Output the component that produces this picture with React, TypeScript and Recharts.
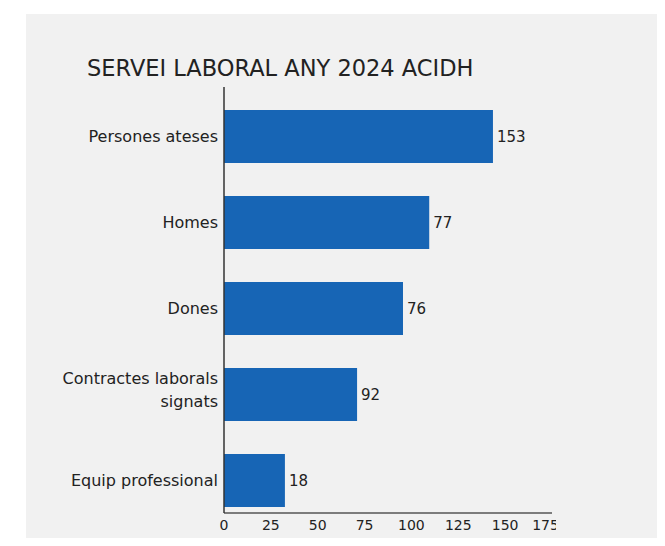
import { Bar, BarChart, LabelList, XAxis, YAxis } from 'recharts'

const categories = [
  'Persones ateses',
  'Homes',
  'Dones',
  'Contractes laborals\nsignats',
  'Equip professional',
]
// bar lengths as drawn in the picture (they do not follow the printed numbers)
const barLengths = [143.5, 109.5, 95.5, 71, 32.5]
// numbers printed next to each bar
const printedValues = ['153', '77', '76', '92', '18']
const xTicks = [0, 25, 50, 75, 100, 125, 150, 175]

const data = categories.map((name, i) => ({
  name,
  length: barLengths[i],
  shown: printedValues[i],
}))

const font = "'DejaVu Sans', sans-serif"
const textColor = '#222'
const barColor = '#1765b5'

function CategoryTick(props: any) {
  const { x, y, payload } = props
  const lines = String(payload.value).split('\n')
  const lineH = 23
  const startY = y - ((lines.length - 1) * lineH) / 2 - (lines.length > 1 ? 5 : 0)
  return (
    <text
      x={x + 2}
      y={startY}
      textAnchor="end"
      dominantBaseline="central"
      fontSize={16}
      fontFamily={font}
      fill={textColor}
    >
      {lines.map((line, i) => (
        <tspan key={i} x={x + 2} dy={i === 0 ? 0 : lineH}>
          {line}
        </tspan>
      ))}
    </text>
  )
}

export default function App() {
  return (
    <div
      style={{
        position: 'relative',
        width: 665,
        height: 546,
        margin: -8,
        background: '#ffffff',
        fontFamily: font,
        overflow: 'hidden',
      }}
    >
      <div
        style={{
          position: 'absolute',
          left: 26,
          top: 14,
          right: 0,
          bottom: 0,
          background: '#f1f1f1',
        }}
      />
      <div
        style={{
          position: 'absolute',
          left: 87,
          top: 55,
          fontSize: 22.5,
          color: textColor,
          whiteSpace: 'nowrap',
        }}
      >
        SERVEI LABORAL ANY 2024 ACIDH
      </div>
      <div style={{ position: 'absolute', left: 0, top: 0 }}>
        <BarChart
          width={556}
          height={546}
          data={data}
          layout="vertical"
          margin={{ top: 87, right: 4, bottom: 3, left: 24 }}
          barSize={53}
        >
          <XAxis
            type="number"
            domain={[0, 175]}
            ticks={xTicks}
            tickLine={false}
            axisLine={{ stroke: '#555', strokeWidth: 1.5 }}
            tick={{ fontSize: 14, fill: textColor, fontFamily: font }}
            tickMargin={1}
            height={30}
          />
          <YAxis
            type="category"
            dataKey="name"
            width={200}
            tickLine={false}
            axisLine={{ stroke: '#333', strokeWidth: 1.5 }}
            tick={<CategoryTick />}
            padding={{ top: 6, bottom: -10 }}
            interval={0}
          />
          <Bar dataKey="length" fill={barColor} isAnimationActive={false}>
            <LabelList
              dataKey="shown"
              position="right"
              offset={4}
              fontSize={15}
              fontFamily={font}
              fill={textColor}
            />
          </Bar>
        </BarChart>
      </div>
    </div>
  )
}
